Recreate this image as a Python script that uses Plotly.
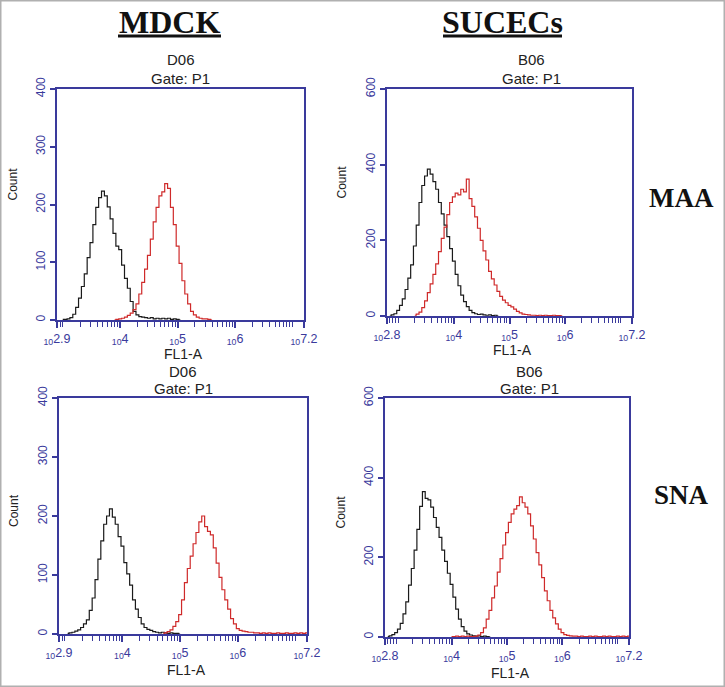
import numpy as np
import plotly.graph_objects as go

STEP = 0.05  # histogram bin width, log10 units

# ---- data: counts per bin (log10 FL1-A channel) ----
# MDCK / MAA
mdck_maa_black_start = 3.00
mdck_maa_black = [1, 1, 2, 4, 10, 22, 38, 58, 80, 108, 134, 165, 195, 212, 223, 215, 196, 175,
                  150, 128, 122, 95, 72, 55, 32, 15, 9, 6, 5, 4, 3, 4, 2, 3, 2, 3, 2, 3, 1, 2, 1, 0]
mdck_maa_red_start = 3.90
mdck_maa_red = [0, 1, 2, 3, 5, 8, 12, 18, 28, 45, 65, 88, 112, 140, 170, 195, 215, 222, 236, 228,
                195, 165, 128, 98, 68, 45, 28, 15, 9, 5, 3, 2, 2, 1, 0]
# SUCECs / MAA
sucec_maa_black_start = 2.85
sucec_maa_black = [0, 3, 6, 15, 28, 45, 70, 100, 135, 185, 240, 300, 345, 370, 388, 375, 355, 335,
                   300, 270, 240, 210, 178, 145, 110, 80, 55, 38, 25, 15, 9, 6, 4, 5, 3, 2, 3, 1, 2, 0]
sucec_maa_red_start = 3.30
sucec_maa_red = [2, 5, 10, 22, 40, 62, 85, 110, 138, 170, 205, 235, 268, 300, 315, 325, 320, 335,
                 328, 362, 310, 290, 262, 232, 200, 172, 148, 118, 98, 82, 65, 52, 42, 35, 28, 24,
                 18, 12, 8, 5, 4, 3, 2, 2, 1, 2, 1, 2, 1, 1, 2, 1, 1, 0]
# MDCK / SNA
mdck_sna_black_start = 3.05
mdck_sna_black = [1, 2, 3, 5, 7, 11, 17, 24, 40, 61, 92, 127, 158, 186, 200, 212, 198, 186, 165,
                  149, 121, 102, 83, 58, 42, 28, 17, 11, 8, 6, 4, 3, 2, 3, 2, 1, 2, 1, 1, 0]
mdck_sna_red_start = 4.70
mdck_sna_red = [0, 2, 4, 7, 13, 21, 33, 58, 87, 111, 132, 153, 172, 190, 200, 182, 174, 168, 146,
                120, 96, 75, 58, 42, 26, 17, 9, 6, 5, 4, 3, 3, 2, 2, 1, 2, 1, 2, 1, 1, 2, 1, 1, 2,
                1, 1, 2, 1, 2, 1, 2]
# SUCECs / SNA
sucec_sna_black_start = 2.85
sucec_sna_black = [1, 3, 6, 11, 20, 34, 58, 88, 130, 172, 218, 270, 328, 365, 348, 344, 326, 300,
                   275, 250, 218, 190, 160, 132, 100, 70, 45, 26, 15, 8, 5, 3, 2, 3, 1, 2, 1, 0]
sucec_sna_red_start = 4.00
sucec_sna_red = [1, 1, 2, 1, 2, 1, 2, 1, 1, 2, 5, 11, 23, 45, 67, 98, 128, 163, 197, 231, 262,
                 288, 309, 321, 330, 352, 337, 326, 309, 279, 246, 212, 181, 149, 116, 91, 67, 48,
                 33, 20, 11, 6, 4, 3, 2, 2, 1, 2, 1, 1, 2, 1, 2, 1, 1, 2, 1, 2, 1, 1, 2, 1, 2, 1, 2]

col_titles = ["MDCK", "SUCECs"]
row_titles = ["MAA", "SNA"]
well_ids = ["D06", "B06", "D06", "B06"]
gate_text = "Gate: P1"
x_label = "FL1-A"
y_label = "Count"
x_ranges = [(2.9, 7.2), (2.8, 7.2), (2.9, 7.2), (2.8, 7.2)]
y_maxes = [400, 600, 400, 600]
y_ticks = [[0, 100, 200, 300, 400], [0, 200, 400, 600], [0, 100, 200, 300, 400], [0, 200, 400, 600]]

curves = [
    (mdck_maa_black_start, mdck_maa_black, mdck_maa_red_start, mdck_maa_red),
    (sucec_maa_black_start, sucec_maa_black, sucec_maa_red_start, sucec_maa_red),
    (mdck_sna_black_start, mdck_sna_black, mdck_sna_red_start, mdck_sna_red),
    (sucec_sna_black_start, sucec_sna_black, sucec_sna_red_start, sucec_sna_red),
]

W, H = 725, 687
BLUE = "#3a3a9c"
BLACK = "#1a1a1a"
RED = "#cf2a2a"

# pixel boxes of each plot area: left, right, top, bottom
boxes = [(57, 304, 89, 320), (387, 632, 89, 316), (59, 307, 398, 634), (385, 629, 398, 637)]


def px_x(p):
    return p / W


def px_y(p):
    return 1 - p / H


def note(x, y, text, size, family="Liberation Sans", color="#222", angle=0):
    return dict(x=px_x(x), y=px_y(y), xref="paper", yref="paper", text=text, showarrow=False,
                xanchor="center", yanchor="middle", textangle=angle,
                font=dict(family=family, size=size, color=color))


fig = go.Figure()
layout_axes = {}
annotations = []

for i, (box, (bs, bv, rs, rv)) in enumerate(zip(boxes, curves)):
    n = i + 1
    xa = "x" if n == 1 else f"x{n}"
    ya = "y" if n == 1 else f"y{n}"
    l, r, t, b = box
    xr = x_ranges[i]
    for start, vals, col in ((bs, bv, BLACK), (rs, rv, RED)):
        xs = start + STEP * np.arange(len(vals))
        fig.add_trace(go.Scatter(x=xs, y=vals, mode="lines", line=dict(color=col, width=1.2, shape="hvh"),
                                 xaxis=xa, yaxis=ya, showlegend=False, hoverinfo="skip"))
    majors = [xr[0], 4, 5, 6, xr[1]]
    major_text = [f"<sub>10</sub>{v:g}" for v in majors]
    minors = []
    for dec in range(2, 8):
        for k in range(1, 10):
            v = dec + np.log10(k)
            if xr[0] < v < xr[1] and v not in (4, 5, 6):
                minors.append(v)
    layout_axes["xaxis" if n == 1 else f"xaxis{n}"] = dict(
        domain=[px_x(l), px_x(r)], anchor=ya, range=list(xr), showgrid=False, zeroline=False,
        automargin=False, showline=True, mirror=True, linecolor=BLUE, linewidth=1.5,
        tickmode="array", tickvals=majors, ticktext=major_text, ticks="outside", ticklen=6,
        tickcolor=BLUE, tickwidth=1.5, tickfont=dict(family="Liberation Sans", size=12.5, color=BLUE),
        minor=dict(tickmode="array", tickvals=minors, ticks="outside", ticklen=5, tickcolor=BLUE, tickwidth=1.3),
    )
    layout_axes["yaxis" if n == 1 else f"yaxis{n}"] = dict(
        domain=[px_y(b), px_y(t)], anchor=xa, range=[0, y_maxes[i]], showgrid=False, zeroline=False,
        automargin=False, showline=True, mirror=True, linecolor=BLUE, linewidth=1.5,
        tickmode="array", tickvals=y_ticks[i], ticks="outside", ticklen=5, tickcolor=BLUE, tickwidth=1.5,
        tickangle=-90, tickfont=dict(family="Liberation Sans", size=12, color=BLUE),
    )
    cx = (l + r) / 2 + (0 if i % 2 == 0 else 22)
    top_gap = 29 if i < 2 else 27
    annotations.append(note(cx, t - top_gap, well_ids[i], 15))
    annotations.append(note(cx, t - top_gap + 18, gate_text, 15))
    annotations.append(note((l + r) / 2 + 3, b + (34 if i < 2 else 36), x_label, 14))
    annotations.append(note(l - 45, (t + b) / 2 - (20 if i < 2 else 5), y_label, 12, angle=-90))

# column and row headers
for txt, cx in zip(col_titles, (169, 502)):
    annotations.append(note(cx, 22, f"<b>{txt}</b>", 32, family="Liberation Serif", color="#111"))
for txt, cy in zip(row_titles, (198, 495)):
    annotations.append(note(681, cy, f"<b>{txt}</b>", 27, family="Liberation Serif", color="#111"))

shapes = [
    dict(type="line", xref="paper", yref="paper", x0=px_x(118), x1=px_x(221), y0=px_y(36), y1=px_y(36),
         line=dict(color="#111", width=3)),
    dict(type="line", xref="paper", yref="paper", x0=px_x(443), x1=px_x(562), y0=px_y(36), y1=px_y(36),
         line=dict(color="#111", width=3)),
    dict(type="rect", xref="paper", yref="paper", x0=0, x1=1, y0=0, y1=1,
         line=dict(color="#b0b0b0", width=3)),
]

fig.update_layout(width=W, height=H, margin=dict(l=0, r=0, t=0, b=0, pad=0, autoexpand=False),
                  paper_bgcolor="white", plot_bgcolor="white", annotations=annotations, shapes=shapes,
                  **layout_axes)

fig.write_html("out.html", config={"displayModeBar": False},
               post_script="document.body.style.margin='0';document.body.style.overflow='hidden';")
